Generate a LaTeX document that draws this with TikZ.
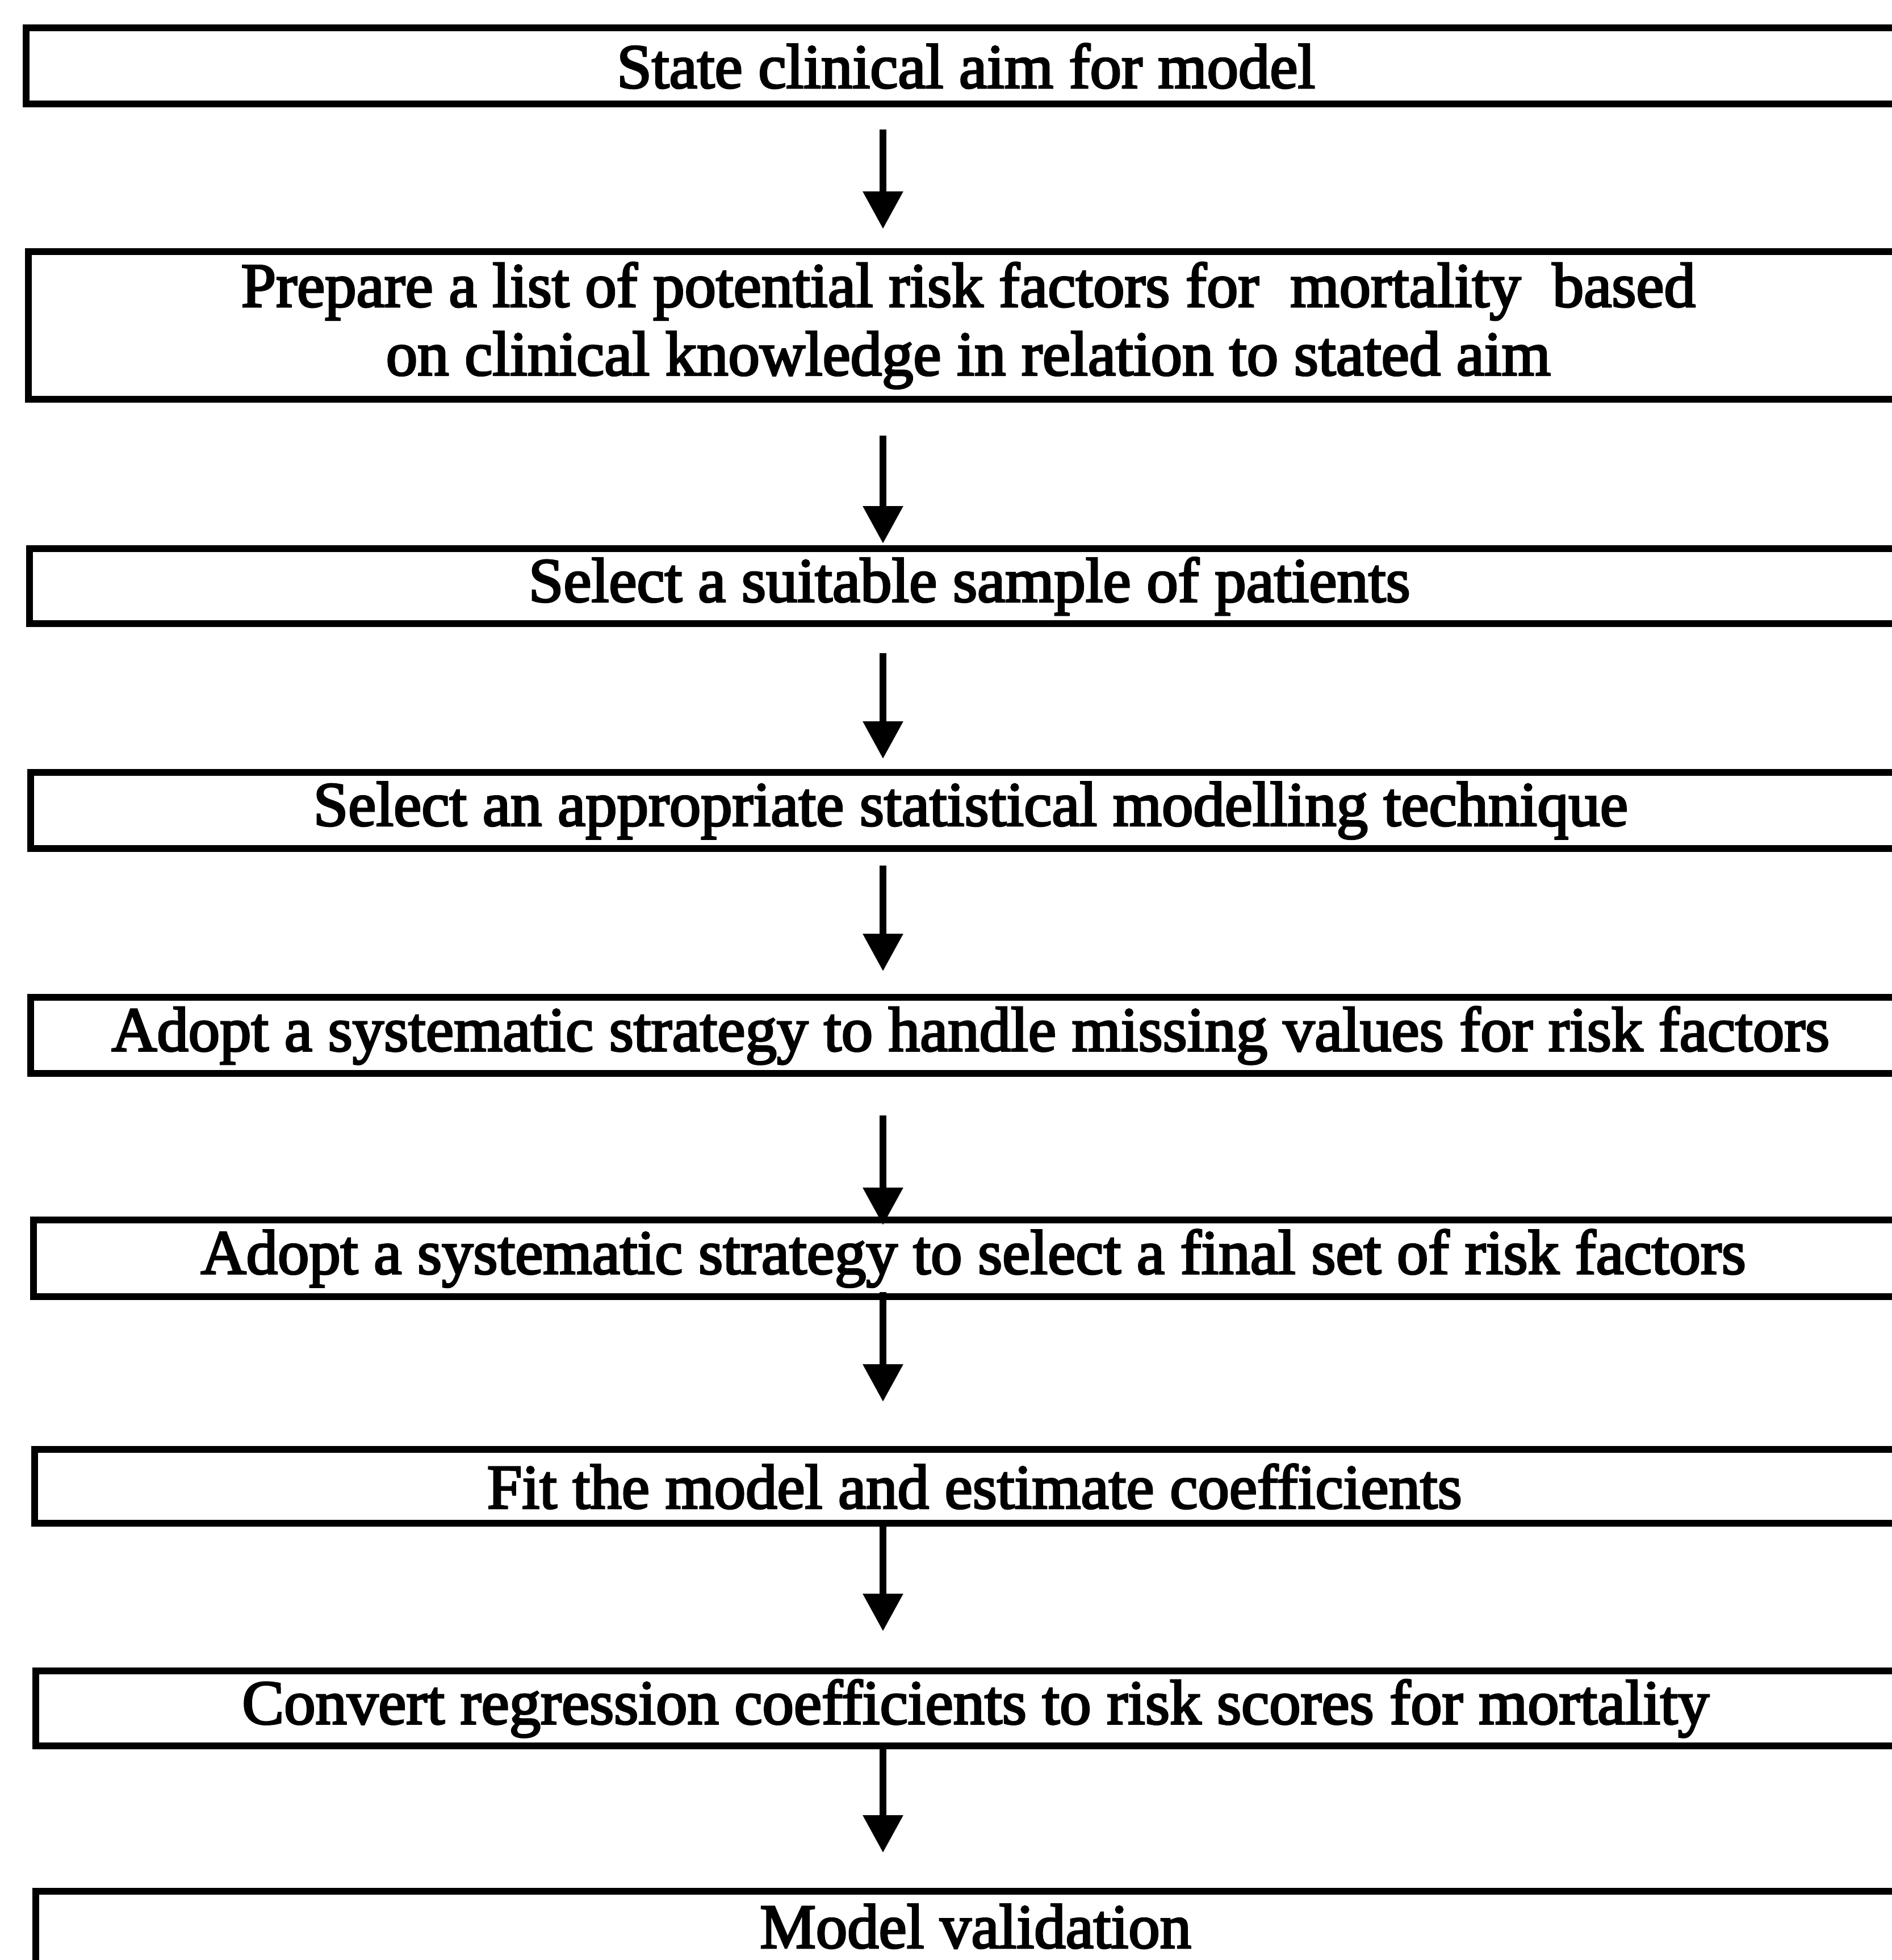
\documentclass[tikz,border=0pt]{standalone}
\usepackage{fontspec}
\newfontfamily\stagefont{Liberation Serif}[FakeBold=3]
\usetikzlibrary{arrows.meta}

\begin{document}
\begin{tikzpicture}[
  stage/.style={draw, line width=3.5pt, anchor=north west, minimum width=33.1cm,
    minimum height=1.34cm, inner sep=0pt, align=center,
    font=\stagefont\fontsize{31.5}{34.3}\selectfont},
  flow/.style={-{Triangle[length=0.66cm,width=0.68cm]}, line width=3.6pt}
]
\useasboundingbox (0,0) rectangle (33.32,-34.51);
\coordinate (spine) at (15.55,0);
\node[stage] (aim) at (0.40,-0.43) {State clinical aim for model};
\node[stage, minimum height=2.60cm] (list) at (0.44,-4.37) {Prepare a list of potential risk factors for\ \ mortality\ \ based\\on clinical knowledge in relation to stated aim};
\node[stage, minimum height=1.32cm] (sample) at (0.46,-9.60) {Select a suitable sample of patients};
\node[stage] (technique) at (0.48,-13.54) {Select an appropriate statistical modelling technique};
\node[stage] (missing) at (0.48,-17.50) {Adopt a systematic strategy to handle missing values for risk factors};
\node[stage, minimum height=1.35cm] (select) at (0.53,-21.42) {Adopt a systematic strategy to select a final set of risk factors};
\node[stage, minimum height=1.30cm] (fit) at (0.55,-25.46) {Fit the model and estimate coefficients};
\node[stage, minimum height=1.32cm] (convert) at (0.57,-29.36) {Convert regression coefficients to risk scores for mortality};
\node[stage] (validation) at (0.57,-33.24) {\raisebox{0.12cm}{Model validation}};
% arrows down the spine
\draw[flow] ([yshift=-0.39cm]aim.south -| spine) -- ([yshift=0.34cm]list.north -| spine);
\draw[flow] ([yshift=-0.58cm]list.south -| spine) -- ([yshift=0.03cm]sample.north -| spine);
\draw[flow] ([yshift=-0.46cm]sample.south -| spine) -- ([yshift=0.18cm]technique.north -| spine);
\draw[flow] ([yshift=-0.24cm]technique.south -| spine) -- ([yshift=0.40cm]missing.north -| spine);
\draw[flow] ([yshift=-0.68cm]missing.south -| spine) -- ([yshift=-0.15cm]select.north -| spine);
\draw[flow] ([yshift=0.14cm]select.south -| spine) -- ([yshift=0.78cm]fit.north -| spine);
\draw[flow] ([yshift=0.02cm]fit.south -| spine) -- ([yshift=0.64cm]convert.north -| spine);
\draw[flow] ([yshift=0.05cm]convert.south -| spine) -- ([yshift=0.62cm]validation.north -| spine);
\end{tikzpicture}
\end{document}
